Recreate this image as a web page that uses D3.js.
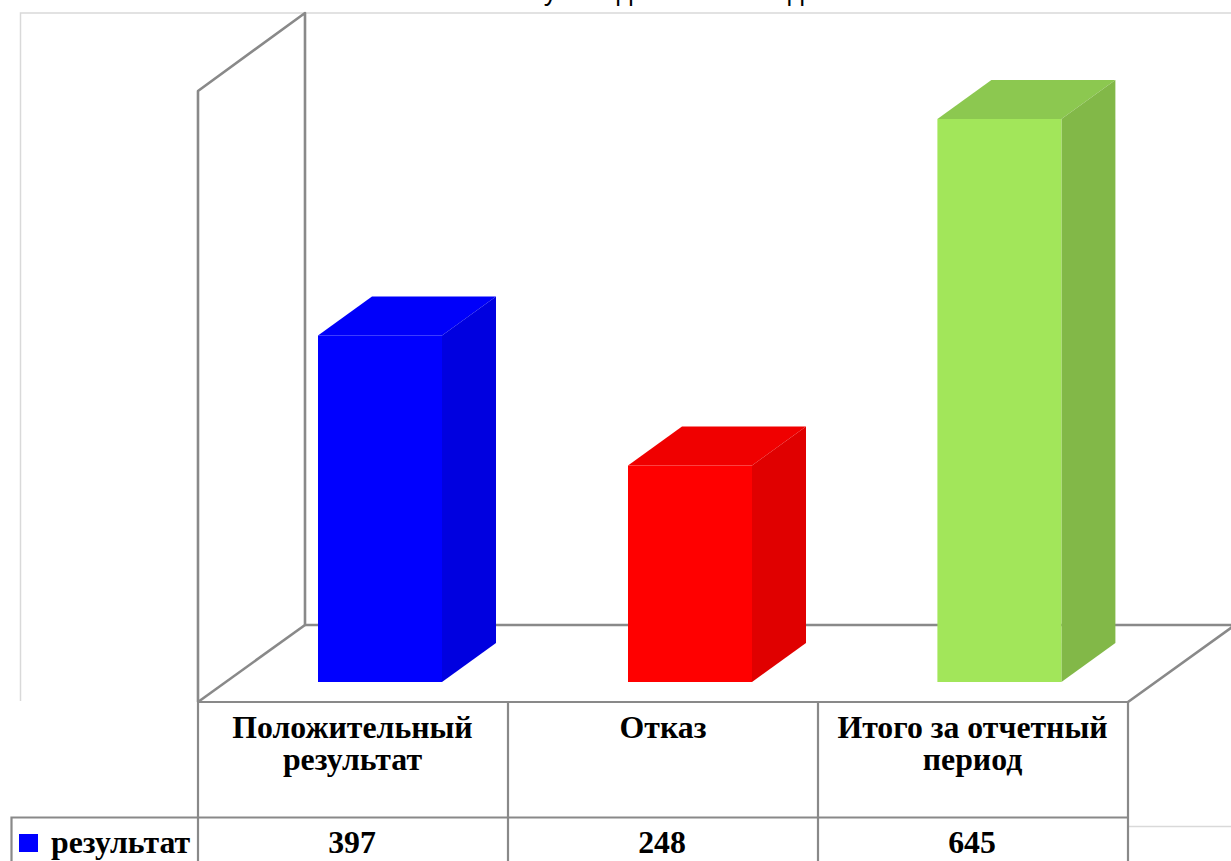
<!DOCTYPE html>
<html><head><meta charset="utf-8">
<script src="https://cdn.jsdelivr.net/npm/d3@7/dist/d3.min.js"></script>
<style>html,body{margin:0;padding:0;background:#fff;overflow:hidden}svg{display:block}</style>
</head><body><svg id="c" width="1231" height="861"></svg>
<script>
const categories = [["Положительный","результат"],["Отказ"],["Итого за отчетный","период"]];
const seriesName = "результат";
const values = [397,248,645];
const front = ["#0000ff","#ff0000","#a2e65a"];
const side = ["#0000e0","#e00000","#82b848"];
const topc = ["#0000fa","#f00000","#8cc850"];
const titleText = "Сумма дел за этот год";

const svg = d3.select("#c");
const x = d3.scaleBand().domain(d3.range(categories.length)).range([198,1128]);
const y = d3.scaleLinear().domain([0,645]).range([682,119]);
const dx=54, dy=-39, barW=124, barOff=120, wallD=107, floorTop=702;
const grey="#898989";
const P=a=>a.map(p=>p.join(",")).join(" ");

// chart frame
svg.append("path").attr("d","M20.5,701V13H1231").attr("fill","none").attr("stroke","#d9d9d9").attr("stroke-width",1.5);
svg.append("path").attr("d","M1128,826.5H1231").attr("fill","none").attr("stroke","#d9d9d9").attr("stroke-width",1.5);
// title
svg.append("text").text(titleText).attr("x",664).attr("y",0).attr("text-anchor","middle")
  .attr("font-family","Liberation Sans").attr("font-size",27);

// wall + floor
const L=x.range()[0], R=x.range()[1];
svg.append("polyline").attr("points",P([[L,floorTop],[L,91],[L+wallD,13],[L+wallD,625],[R+wallD,625],[R,floorTop]]))
  .attr("fill","none").attr("stroke",grey).attr("stroke-width",2.6).attr("stroke-linejoin","round");
svg.append("line").attr("x1",L).attr("y1",floorTop).attr("x2",L+wallD).attr("y2",625).attr("stroke",grey).attr("stroke-width",2.6);

// bars
values.forEach((v,i)=>{
  const x0=x(i)+barOff-(i==2?0.6:0), x1=x0+barW, yt=y(v), yb=y(0);
  svg.append("polygon").attr("points",P([[x0,yt],[x0+dx,yt+dy],[x1+dx,yt+dy],[x1,yt]])).attr("fill",topc[i]);
  svg.append("polygon").attr("points",P([[x1,yt],[x1+dx,yt+dy],[x1+dx,yb+dy],[x1,yb]])).attr("fill",side[i]);
  svg.append("rect").attr("x",x0).attr("y",yt).attr("width",barW).attr("height",yb-yt).attr("fill",front[i]);
});

// data table
const tb=g=>g.attr("stroke",grey).attr("stroke-width",2.2).attr("fill","none");
const row1=817.5, bottom=861;
svg.append("path").call(tb).attr("d",`M${L},${floorTop}H${R}M11.5,${bottom}V${row1}H${R}`);
x.domain().concat([3]).forEach(i=>{
  const xx=L+i*x.bandwidth();
  svg.append("line").call(tb).attr("x1",xx).attr("x2",xx).attr("y1",floorTop).attr("y2",bottom);
});
const font={family:"Liberation Serif",size:31.8,weight:"bold"};
const T=(s,xx,yy,a)=>svg.append("text").text(s).attr("x",xx).attr("y",yy).attr("text-anchor",a||"middle")
  .attr("font-family",font.family).attr("font-size",font.size).attr("font-weight",font.weight).attr("fill","#000");
const centers=[352.5,663,972.5];
categories.forEach((c,i)=>c.forEach((s,j)=>T(s,centers[i],738+j*32)));
values.forEach((v,i)=>T(v,x(i)+x.bandwidth()/2-1,853));
svg.append("rect").attr("x",19).attr("y",834).attr("width",19).attr("height",18).attr("fill","#0000ff");
T(seriesName,51,853,"start");
</script></body></html>
